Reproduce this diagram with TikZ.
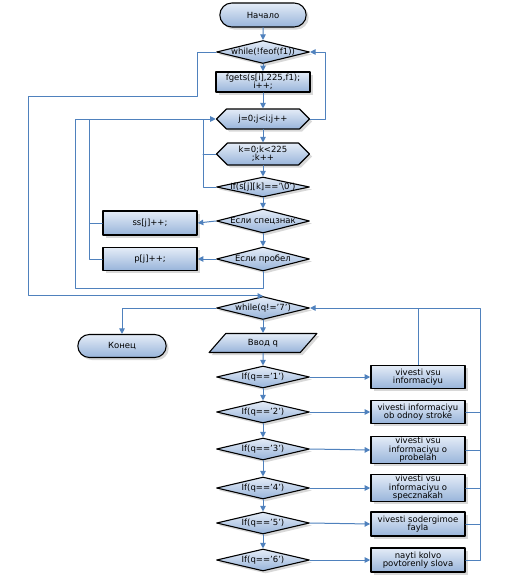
\documentclass[tikz,border=0pt]{standalone}
\usepackage{fontspec}
\setmainfont{DejaVu Sans}
\usetikzlibrary{arrows.meta,shapes.geometric,shapes.misc,shapes.symbols,shadows}

\definecolor{lnblue}{RGB}{79,129,189}
\definecolor{filltop}{RGB}{228,236,247}
\definecolor{fillbot}{RGB}{152,180,218}

\begin{document}
\begin{tikzpicture}[line cap=round,line join=round,>={Triangle[length=5.5pt,width=5.5pt]},x=1pt,y=-1pt,
		font=\fontsize{8.5}{8.5}\selectfont,
		blk/.style={draw=black,top color=filltop,bottom color=fillbot,
			drop shadow={shadow xshift=2.5pt,shadow yshift=-2.5pt,fill=black!30}},
		term/.style={blk,rounded rectangle,line width=1.1pt,minimum width=93pt,minimum height=24pt},
		proc/.style={blk,rectangle,line width=1.6pt,minimum width=94pt,minimum height=23pt,inner sep=1pt,align=center},
		dec/.style={blk,diamond,line width=1.1pt,minimum width=93pt,minimum height=23pt,inner sep=0pt},
		hexa/.style={blk,signal,signal to=west and east,line width=1.1pt,minimum width=93pt,minimum height=21pt,inner sep=0pt},
		inout/.style={blk,trapezium,trapezium left angle=50,trapezium right angle=130,trapezium stretches=true,
			line width=1.1pt,minimum width=108pt,minimum height=19pt,inner sep=0pt},
		conn/.style={draw=lnblue,line width=1pt}]
	\useasboundingbox (0,0) rectangle (523,581);
	% first part: reading the file
	\node[term] (start) at (263,15) {Начало};
	\node[dec,label={center:{while(!feof(f1))}}] (w1) at (263,52) {};
	\node[proc,minimum height=20pt] (fg) at (263,82) {fgets(s[i],225,f1);\\i++;};
	\node[hexa,minimum height=20pt,label={center:{j=0;j<i;j++}}] (jl) at (263,119) {};
	\node[hexa,minimum height=22pt,label={[align=center]center:{k=0;k<225\\;k++}}] (kl) at (263,154) {};
	\node[dec,minimum height=20pt,label={center:{If(s[j][k]=='\textbackslash0')}}] (c0) at (263,187) {};
	\node[dec,minimum height=24pt,label={center:{Если спецзнак}}] (sz) at (263,221) {};
	\node[proc,minimum height=24pt] (ss) at (150,223) {ss[j]++;};
	\node[dec,minimum height=24pt,label={center:{Если пробел}}] (pr) at (263,259) {};
	\node[proc] (pp) at (150,259) {p[j]++;};
	% menu
	\node[dec,label={center:{while(q!='7')}}] (wq) at (263,308) {};
	\node[term,minimum width=95pt,minimum height=23pt] (end) at (122,346) {Конец};
	\node[inout] (in) at (263,343) {Ввод q};
	\foreach \i/\y in {1/377,2/412,3/449,4/488,5/523,6/560}
		\node[dec,minimum height=22pt,label={center:{If(q=='\i')}}] (q\i) at (263,\y) {};
	\node[proc] (b1) at (418,377) {vivesti vsu\\informaciyu};
	\node[proc] (b2) at (418,412) {vivesti informaciyu\\ob odnoy stroke};
	\node[proc,minimum height=25pt] (b3) at (418,450) {vivesti vsu\\informaciyu o\\probelah};
	\node[proc,minimum height=25pt] (b4) at (418,488) {vivesti vsu\\informaciyu o\\specznakah};
	\node[proc,minimum height=24pt] (b5) at (418,524) {vivesti sodergimoe\\fayla};
	\node[proc,minimum height=24pt] (b6) at (418,560) {nayti kolvo\\povtorenly slova};
	% routing points
	\coordinate (colR) at (325,0);
	\coordinate (x1) at (197,96);
	\coordinate (x2) at (28,0);
	\coordinate (cA) at (203,0);
	\coordinate (cB) at (89,0);
	\coordinate (cC) at (75,288);
	\coordinate (colQ) at (480,0);
	% connectors
	\draw[conn,->] (start) -- (w1);
	\draw[conn,->] (w1) -- (fg);
	\draw[conn,->] (fg) -- (jl);
	\draw[conn,->] (jl.east) -- (jl.east -| colR) -- (w1.east -| colR) -- (w1.east);
	\draw[conn,->] (w1.west) -| (x1) -| (x2 |- wq.north) -- (wq.north);
	\draw[conn,->] (jl) -- (kl);
	\draw[conn,->] (kl) -- (c0);
	\draw[conn,->] (c0) -- (sz);
	\draw[conn,->] (sz) -- (pr);
	\draw[conn,->] (sz.west) -- (ss.east);
	\draw[conn,->] (pr.west) -- (pp.east);
	\draw[conn,->] (c0.west) -- (c0.west -| cA) -- (jl.west -| cA) -- (jl.west);
	\draw[conn] (kl.west) -- (kl.west -| cA);
	\draw[conn] (ss.west) -- (ss.west -| cB) -- (jl.west -| cB) -- (jl.west -| cA);
	\draw[conn] (pp.west) -- (pp.west -| cB) -- (ss.west -| cB);
	\draw[conn] (pr.south) |- (cC) |- (jl.west -| cA);
	\draw[conn,->] (wq.west) -| (end.north);
	\draw[conn,->] (wq) -- (in);
	\draw[conn,->] (in) -- (q1);
	\foreach \i/\j in {1/2,2/3,3/4,4/5,5/6}
		\draw[conn,->] (q\i) -- (q\j);
	\foreach \i in {1,...,6}
		\draw[conn,->] (q\i.east) -- (b\i.west);
	\draw[conn,->] (b1.north) |- (wq.east);
	\foreach \i in {2,...,5}
		\draw[conn] (b\i.east) -- (b\i.east -| colQ);
	\draw[conn] (b6.east) -| (colQ |- wq.east) -- (b1.north |- wq.east);
\end{tikzpicture}
\end{document}
